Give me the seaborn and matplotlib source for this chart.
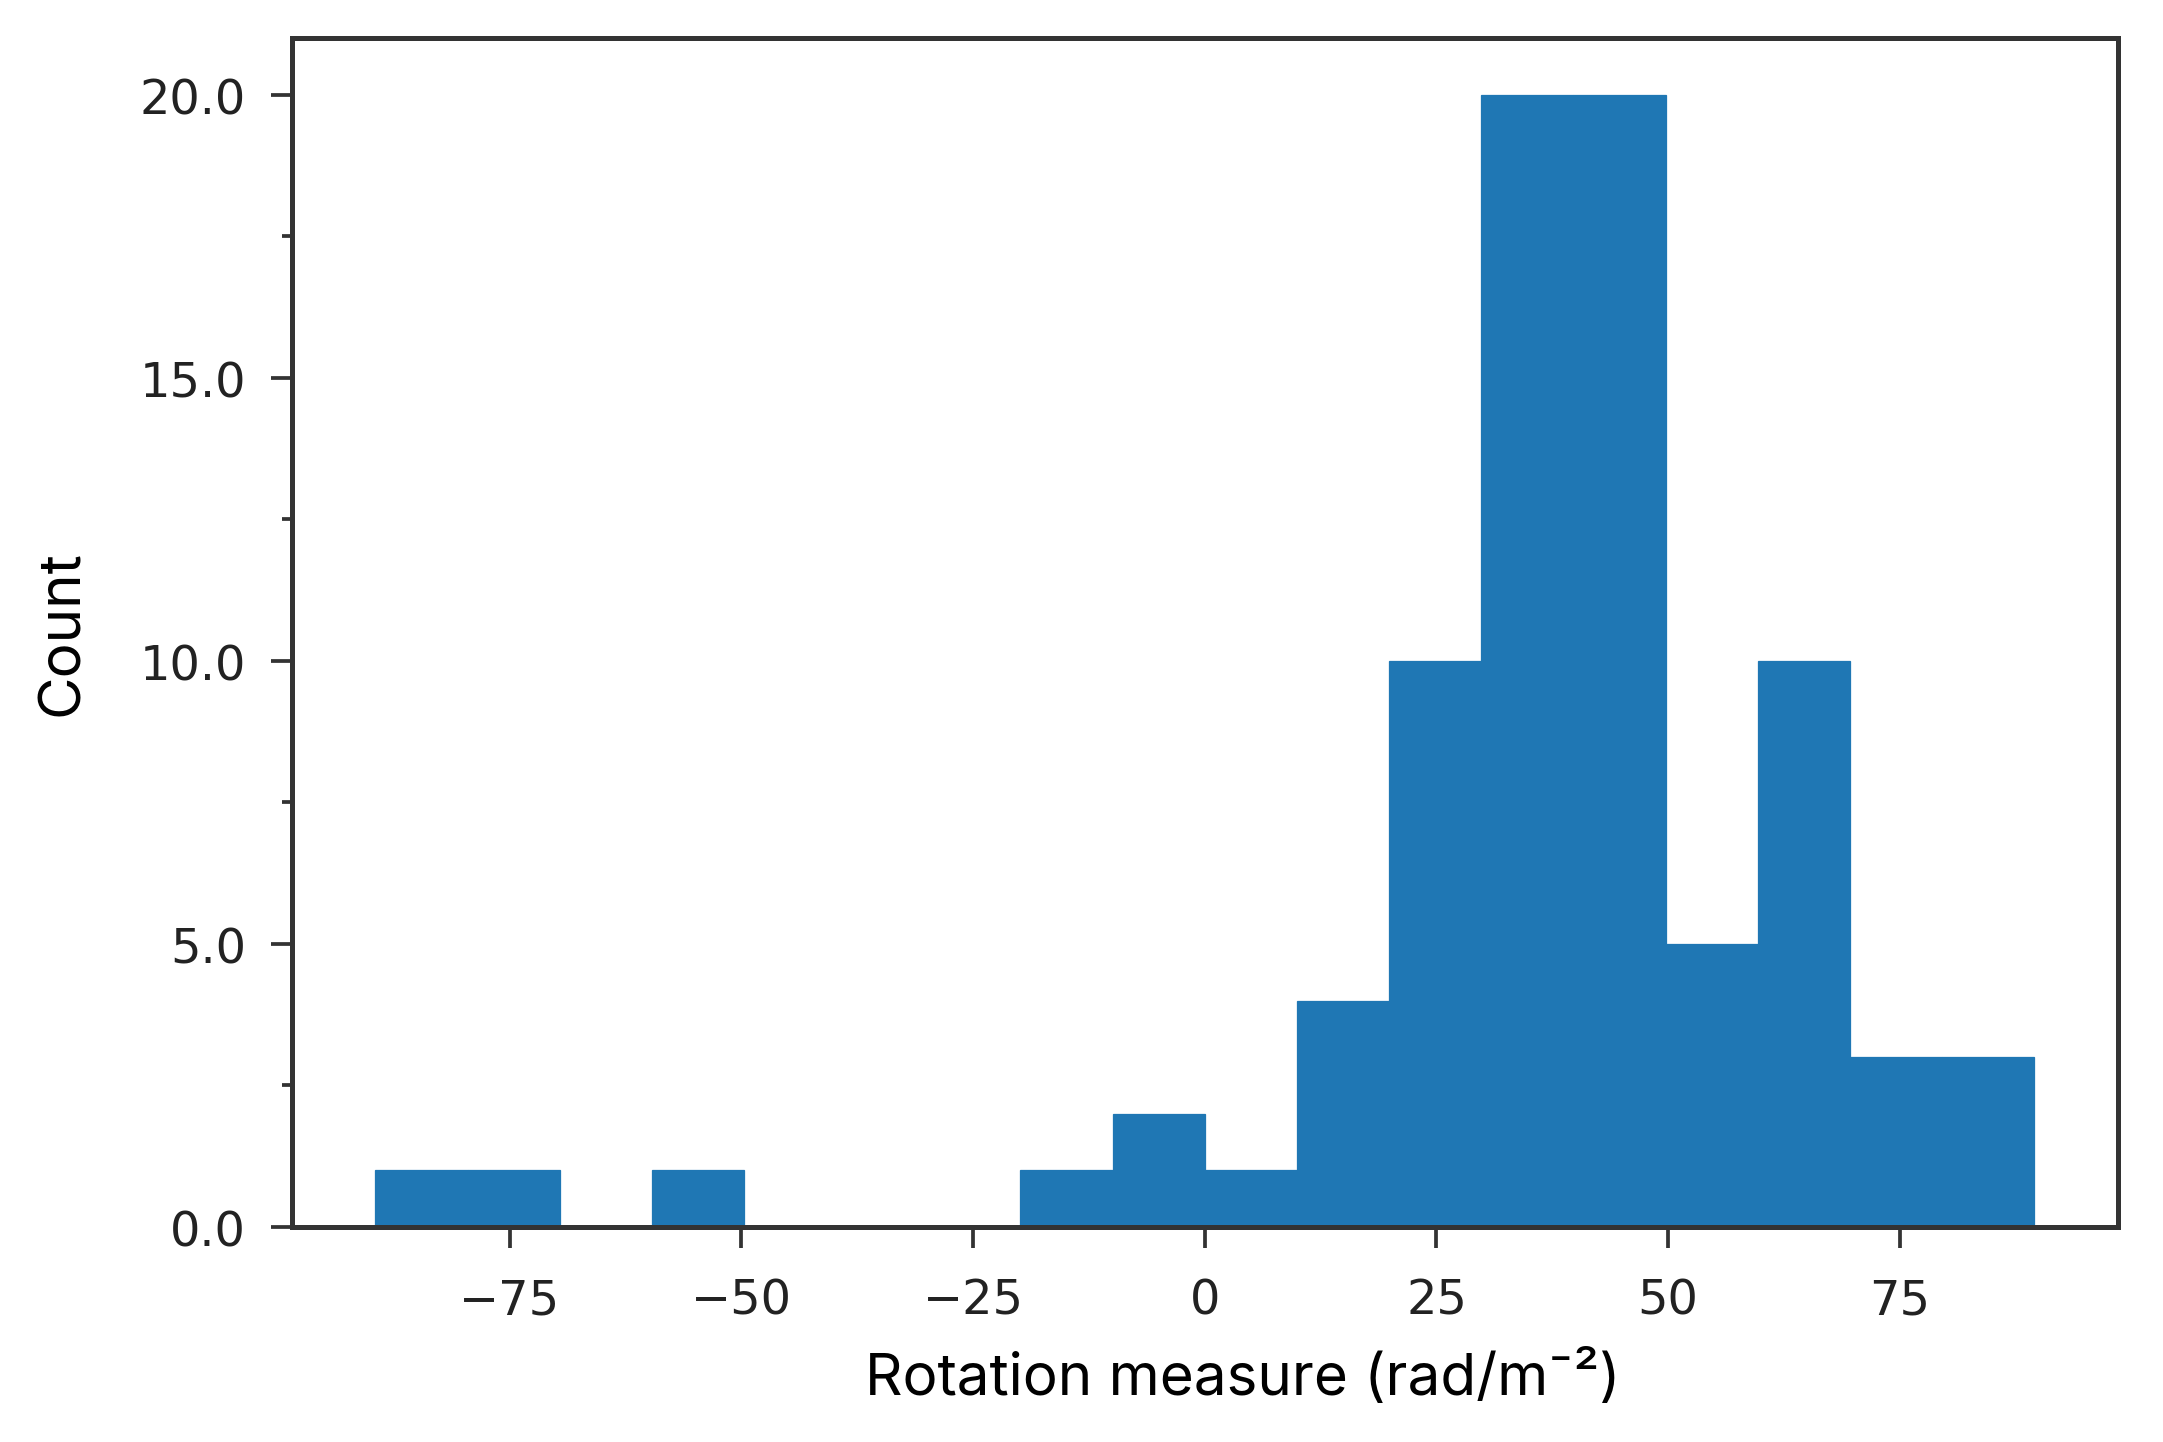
import numpy as np
import pandas as pd
import matplotlib
matplotlib.use("Agg")
import matplotlib.pyplot as plt
from matplotlib.ticker import MultipleLocator, FormatStrFormatter
import seaborn as sns

# Histogram: bin centres (rad/m^-2) and counts
bin_centers = [-85, -75, -65, -55, -45, -35, -25, -15, -5, 5, 15, 25, 35, 45, 55, 65, 75, 85]
counts = [1, 1, 0, 1, 0, 0, 0, 1, 2, 1, 4, 10, 20, 20, 5, 10, 3, 3]

df = pd.DataFrame({"rm": bin_centers, "count": counts})

sns.set_style("ticks")
plt.rcParams["font.family"] = ["DejaVu Sans"]

fig = plt.figure(figsize=(2163 / 300, 1443 / 300), dpi=300)
ax = fig.add_axes([0.135, 0.149, 0.844, 0.824])

sns.histplot(data=df, x="rm", weights="count", bins=18, binrange=(-89.5, 89.5),
             color="#1f77b4", alpha=1, edgecolor="#1f77b4", linewidth=0.3, ax=ax)

ax.set_xlim(-98.5, 98.5)
ax.set_ylim(0, 21)
ax.xaxis.set_major_locator(MultipleLocator(25))
ax.yaxis.set_major_locator(MultipleLocator(5))
ax.yaxis.set_minor_locator(MultipleLocator(2.5))
ax.yaxis.set_major_formatter(FormatStrFormatter("%.1f"))

for s in ax.spines.values():
    s.set_color("#333333")
    s.set_linewidth(1.2)
ax.tick_params(axis="both", which="major", length=5, width=0.9, color="#333333",
               labelsize=11.5, labelcolor="#222222", pad=6)
ax.tick_params(axis="x", which="major", pad=7)
ax.tick_params(axis="y", which="minor", length=2.5, width=0.9, color="#333333")

ax.set_xlabel("Rotation measure (rad/m⁻²)", fontsize=14, family=["Inter", "DejaVu Sans"],
              labelpad=8, color="black")
ax.set_ylabel("Count", fontsize=14, family=["Inter", "DejaVu Sans"], labelpad=12,
              color="black")
ax.xaxis.set_label_coords(0.521, -0.103)

fig.savefig("out.png", dpi=300)
